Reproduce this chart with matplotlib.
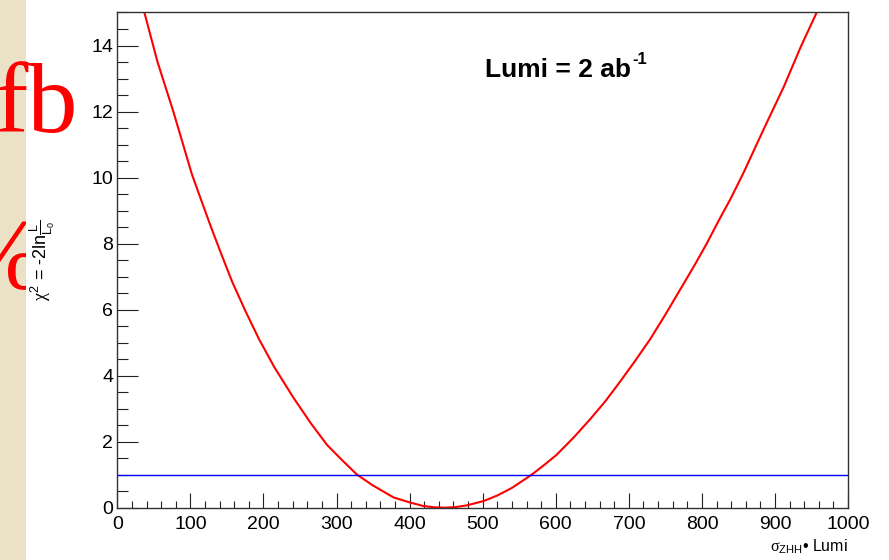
import matplotlib
matplotlib.use('Agg')
import matplotlib.pyplot as plt
from matplotlib.patches import Rectangle
from matplotlib.ticker import MultipleLocator

plt.rcParams['font.family'] = ['Liberation Sans', 'DejaVu Sans']
plt.rcParams['mathtext.fontset'] = 'custom'
plt.rcParams['mathtext.rm'] = 'Liberation Sans'
plt.rcParams['mathtext.it'] = 'Liberation Serif'
plt.rcParams['mathtext.sf'] = 'Liberation Sans'

# chi2 scan
sigma_lumi = [37, 55, 76.6, 90, 102, 115, 129, 143, 157, 175, 194, 215, 241,
              265, 287, 308, 328, 350, 378, 400, 419, 433, 447, 462, 478, 501,
              520, 540, 567, 585, 601, 625, 647, 668, 688, 708, 729, 750, 770,
              790, 807, 823, 839, 857, 885, 912, 935, 957]
chi2 = [15.0, 13.5, 12.0, 11.0, 10.1, 9.3, 8.45, 7.64, 6.85, 5.97, 5.1, 4.25,
        3.33, 2.55, 1.9, 1.43, 1.0, 0.67, 0.31, 0.16, 0.05, 0.014, 0.0, 0.015,
        0.07, 0.2, 0.37, 0.6, 1.0, 1.31, 1.6, 2.14, 2.68, 3.23, 3.82, 4.43,
        5.1, 5.85, 6.6, 7.35, 8.02, 8.7, 9.35, 10.15, 11.49, 12.75, 13.95, 15.0]

# one-sigma reference line
ref_x = [0, 1000]
ref_y = [1, 1]

fig = plt.figure(figsize=(8.89, 5.6), dpi=100)
fig.patch.set_facecolor('white')

# beige slide strip on the left
strip = Rectangle((0, 0), 26 / 889, 1, transform=fig.transFigure,
                  facecolor='#ebe1c6', edgecolor='none', zorder=-5)
fig.add_artist(strip)
pct = fig.text(-40 / 889, 0.487, '%', color='red', fontsize=72,
               family='Liberation Serif', va='baseline', ha='left', zorder=-4)
pct.set_clip_path(strip)
fig.text(-5 / 889, 0.765, 'fb', color='red', fontsize=72,
         family='Liberation Serif', va='baseline', ha='left', zorder=5)

ax = fig.add_axes([0.132, 0.0934, 0.822, 0.8843])
ax.plot(sigma_lumi, chi2, color='red', lw=1.5)
ax.plot(ref_x, ref_y, color='#0000ff', lw=1.0)

ax.set_xlim(0, 1000)
ax.set_ylim(0, 15)
ax.xaxis.set_major_locator(MultipleLocator(100))
ax.xaxis.set_minor_locator(MultipleLocator(20))
ax.yaxis.set_major_locator(MultipleLocator(2))
ax.yaxis.set_minor_locator(MultipleLocator(0.5))

ax.tick_params(axis='y', which='major', direction='in', length=15, width=0.8,
               labelsize=14, pad=3, color='#222222')
ax.tick_params(axis='y', which='minor', direction='in', length=7.9, width=0.8,
               color='#222222')
ax.tick_params(axis='x', which='major', direction='in', length=10.8, width=0.8,
               labelsize=14, pad=6, color='#222222')
ax.tick_params(axis='x', which='minor', direction='in', length=5.4, width=0.8,
               color='#222222')
for s in ax.spines.values():
    s.set_color('#333333')
    s.set_linewidth(1.0)

lumi = ax.text(503, 13.06, 'Lumi = 2 ab', fontsize=19,
               fontweight='bold', ha='left', va='baseline')
ax.annotate('-1', xy=(1.0, 0.62), xycoords=lumi, xytext=(1, 0),
            textcoords='offset points', fontsize=12, fontweight='bold',
            ha='left', va='bottom')

fig.text(0.954, 0.0152, r'$\sigma_{\mathrm{ZHH}}$• Lumi', fontsize=11.5,
         ha='right', va='baseline')
fig.text(0.047, 0.535, r'$\chi^{2}$ = -2ln$\frac{\mathrm{L}}{\mathrm{L}_{0}}$',
         fontsize=13, rotation=90, ha='center', va='center')

fig.savefig('out.png', dpi=100)
